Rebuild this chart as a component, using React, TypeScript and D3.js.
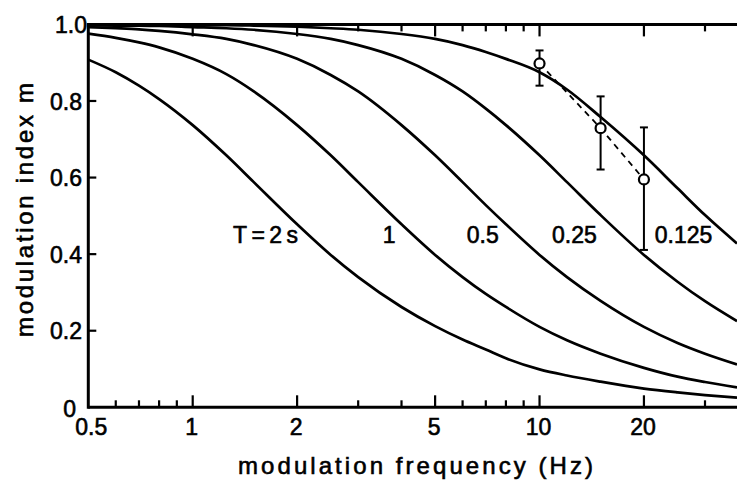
import React from 'react';
import * as d3 from 'd3';

// ---- data ----
const freqs = [0.5, 0.6, 0.7, 0.8, 1, 1.25, 1.5, 2, 2.5, 3, 4, 5, 6, 7, 8, 10, 12, 15, 20, 25, 30, 37.1];
const mT2 = [0.908, 0.875, 0.840, 0.805, 0.737, 0.658, 0.588, 0.478, 0.398, 0.340, 0.262, 0.212, 0.177, 0.151, 0.128, 0.099, 0.083, 0.067, 0.049, 0.039, 0.032, 0.025];
const mT1 = [0.976, 0.965, 0.953, 0.940, 0.910, 0.870, 0.825, 0.737, 0.658, 0.588, 0.478, 0.398, 0.340, 0.296, 0.262, 0.210, 0.175, 0.140, 0.103, 0.080, 0.066, 0.052];
const mT05 = [0.993, 0.990, 0.987, 0.983, 0.974, 0.962, 0.946, 0.910, 0.868, 0.825, 0.737, 0.658, 0.588, 0.528, 0.478, 0.398, 0.340, 0.278, 0.210, 0.168, 0.140, 0.112];
const mT025 = [0.998, 0.997, 0.997, 0.996, 0.993, 0.990, 0.986, 0.975, 0.962, 0.946, 0.910, 0.868, 0.825, 0.780, 0.737, 0.658, 0.588, 0.502, 0.398, 0.328, 0.277, 0.225];
const mT0125 = [0.999, 0.999, 0.999, 0.999, 0.998, 0.998, 0.997, 0.994, 0.990, 0.986, 0.975, 0.962, 0.946, 0.928, 0.910, 0.875, 0.830, 0.758, 0.658, 0.572, 0.502, 0.428];
const curveNames = ['T=2s', '1', '0.5', '0.25', '0.125'];
const labelFreqs = [1.306, 3.53, 6.17, 10.86, 21.5];
const labelM = 0.43;

const measFreqs = [10, 15, 20];
const measM = [0.898, 0.729, 0.595];
const measLo = [0.840, 0.621, 0.411];
const measHi = [0.932, 0.812, 0.731];

const xTickMajor = [1, 2, 5, 10, 20];
const xTickMinor = [0.6, 0.7, 0.8, 0.9, 3, 4, 6, 7, 8, 9, 30];
const xLabelVals = [0.5, 1, 2, 5, 10, 20];
const xLabelText = ['0.5', '1', '2', '5', '10', '20'];
const yTicks = [0, 0.2, 0.4, 0.6, 0.8, 1.0];
const yTickText = ['0', '0.2', '0.4', '0.6', '0.8', '1.0'];

const W = 737, H = 481;
const FONT = '"Liberation Sans", Arial, sans-serif';

export default function App() {
  const x = d3.scaleLog().domain([0.5, 37.1]).range([88.3, 737]);
  const y = d3.scaleLinear().domain([0, 1]).range([407.3, 24.4]);
  const series = [mT2, mT1, mT05, mT025, mT0125];
  const line = d3.line<number>()
    .x((_, i) => x(freqs[i]))
    .y((d) => y(d))
    .curve(d3.curveMonotoneX);
  const dashLine = d3.line<number>().x((_, i) => x(measFreqs[i])).y((d) => y(d));

  const left = x(0.5), bottom = y(0), top = y(1);
  const txt = { fill: '#000', stroke: '#000', strokeWidth: 0.6 };

  return (
    <svg width={W} height={H} style={{ position: 'absolute', left: 0, top: 0, background: '#fff' }}
      fontFamily={FONT}>
      <rect x={0} y={0} width={W} height={H} fill="#fff" />
      {/* curves */}
      {series.map((s, k) => (
        <path key={k} d={line(s) || ''} fill="none" stroke="#000" strokeWidth={2.7} />
      ))}
      {/* axes frame */}
      <line x1={left} x2={W} y1={top} y2={top} stroke="#000" strokeWidth={3} />
      <line x1={left} x2={W} y1={bottom} y2={bottom} stroke="#000" strokeWidth={3} />
      <line x1={left} x2={left} y1={top - 1.5} y2={bottom + 1.5} stroke="#000" strokeWidth={3} />
      {/* x ticks bottom & top */}
      {xTickMajor.map((f) => (
        <g key={'M' + f}>
          <line x1={x(f)} x2={x(f)} y1={bottom} y2={bottom - 12} stroke="#000" strokeWidth={2.2} />
          <line x1={x(f)} x2={x(f)} y1={top} y2={top + 12} stroke="#000" strokeWidth={2.2} />
        </g>
      ))}
      {xTickMinor.map((f) => (
        <g key={'m' + f}>
          <line x1={x(f)} x2={x(f)} y1={bottom} y2={bottom - 7} stroke="#000" strokeWidth={2.2} />
          {f > 1 && <line x1={x(f)} x2={x(f)} y1={top} y2={top + 7} stroke="#000" strokeWidth={2.2} />}
        </g>
      ))}
      {/* y ticks */}
      {yTicks.slice(1, -1).map((v) => (
        <line key={'y' + v} x1={left} x2={left + 8} y1={y(v)} y2={y(v)} stroke="#000" strokeWidth={2.2} />
      ))}
      {/* y tick labels */}
      {yTicks.map((v, i) => {
        const isTop = i === yTicks.length - 1;
        const isZero = i === 0;
        return (
          <text key={'yl' + v} x={isTop ? 87 : isZero ? 76 : 82} y={y(v) + (isZero ? 10 : 8.6)}
            textAnchor="end" fontSize={23} {...txt}>{yTickText[i]}</text>
        );
      })}
      {/* x tick labels */}
      {xLabelVals.map((f, i) => (
        <text key={'xl' + f} x={x(f) + (i === 0 ? 3 : -1)} y={435} textAnchor="middle" fontSize={23} {...txt}>
          {xLabelText[i]}
        </text>
      ))}
      {/* axis titles */}
      <text x={415.5} y={474} textAnchor="middle" fontSize={24} textLength={355} lengthAdjust="spacing" {...txt}>
        modulation frequency (Hz)
      </text>
      <text transform="translate(33,210) rotate(-90)" textAnchor="middle" fontSize={24}
        textLength={254} lengthAdjust="spacing" {...txt}>
        modulation index m
      </text>
      {/* curve labels */}
      {curveNames.map((n, i) => (
        <text key={'c' + n} x={x(labelFreqs[i])} y={y(labelM)} fontSize={23} {...txt}
          {...(i === 0 ? { textLength: 65, lengthAdjust: 'spacing' } : {})}>{n}</text>
      ))}
      {/* measured data */}
      <path d={dashLine(measM) || ''} fill="none" stroke="#000" strokeWidth={1.8} strokeDasharray="6,5" />
      {measFreqs.map((f, i) => (
        <g key={'e' + f}>
          <line x1={x(f)} x2={x(f)} y1={y(measLo[i])} y2={y(measHi[i])} stroke="#000" strokeWidth={2} />
          <line x1={x(f) - 4} x2={x(f) + 4} y1={y(measHi[i])} y2={y(measHi[i])} stroke="#000" strokeWidth={2} />
          <line x1={x(f) - 4} x2={x(f) + 4} y1={y(measLo[i])} y2={y(measLo[i])} stroke="#000" strokeWidth={2} />
          <circle cx={x(f)} cy={y(measM[i])} r={5} fill="#fff" stroke="#000" strokeWidth={2.2} />
        </g>
      ))}
    </svg>
  );
}
